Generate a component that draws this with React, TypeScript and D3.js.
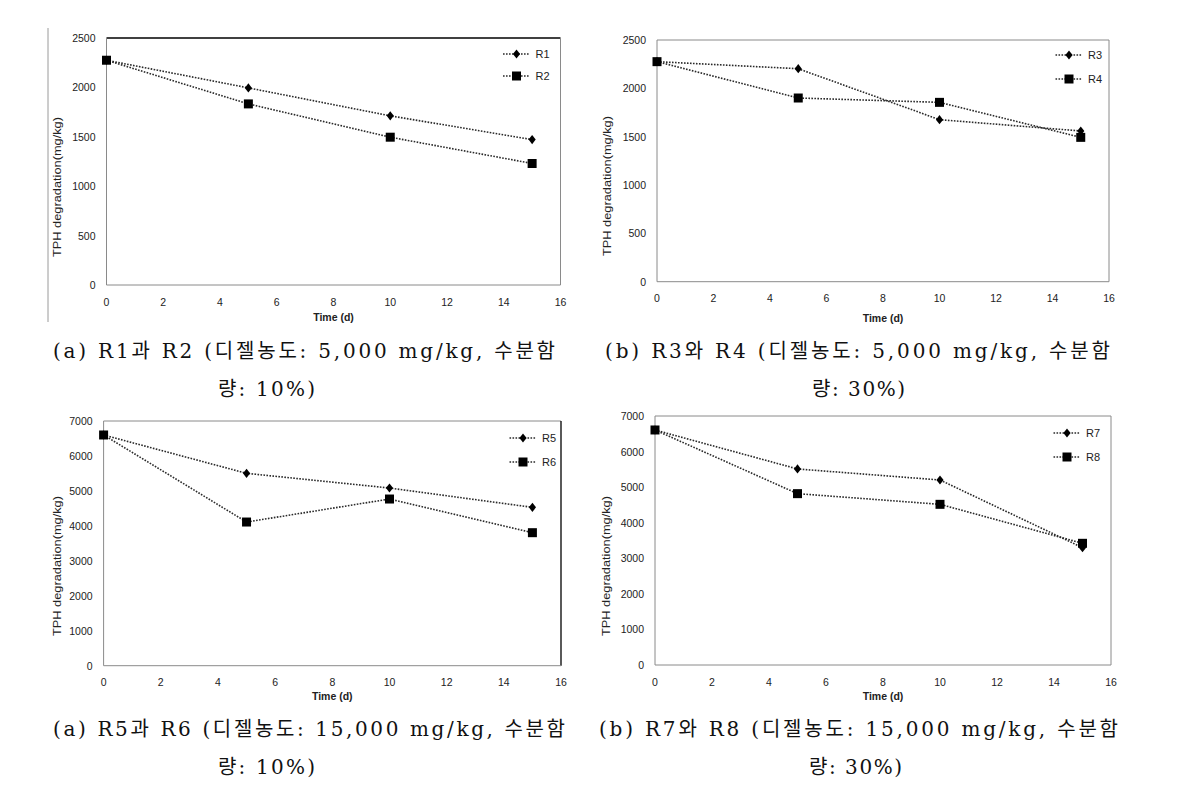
import React from "react";
import * as d3 from "d3";

// ---- data ----
const days = [0, 5, 10, 15];
const r1 = [2275, 1995, 1712, 1472];
const r2 = [2275, 1833, 1496, 1230];
const r3 = [2276, 2203, 1676, 1559];
const r4 = [2276, 1900, 1855, 1493];
const r5 = [6600, 5503, 5083, 4530];
const r6 = [6600, 4110, 4768, 3805];
const r7 = [6607, 5511, 5201, 3299];
const r8 = [6607, 4817, 4517, 3421];
const xTicks = [0, 2, 4, 6, 8, 10, 12, 14, 16];
const yTicksLow = [0, 500, 1000, 1500, 2000, 2500];
const yTicksHigh = [0, 1000, 2000, 3000, 4000, 5000, 6000, 7000];
const captions1 = [
  "(a) R1과 R2 (디젤농도: 5,000 mg/kg, 수분함",
  "(b) R3와 R4 (디젤농도: 5,000 mg/kg, 수분함",
  "(a) R5과 R6 (디젤농도: 15,000 mg/kg, 수분함",
  "(b) R7와 R8 (디젤농도: 15,000 mg/kg, 수분함",
];
const captions2 = ["량: 10%)", "량: 30%)", "량: 10%)", "량: 30%)"];

// ---- layout ----
const panels = [
  { a: r1, b: r2, na: "R1", nb: "R2", yMax: 2500, yT: yTicksLow, x0: 106.5, x1: 560.5, y0: 38, y1: 285,
    leg: { x: 516.5, y: 54, dy: 22 }, title: { x: 57, y: 187 }, timeY: 317, tickY: 302, topDark: true, rightDark: false,
    cap: { x0: 53, x1: 555, y: 351, l2x0: 218, l2x1: 315, y2: 389 } },
  { a: r3, b: r4, na: "R3", nb: "R4", yMax: 2500, yT: yTicksLow, x0: 657, x1: 1109, y0: 40, y1: 281.7,
    leg: { x: 1069, y: 55, dy: 24 }, title: { x: 607, y: 186 }, timeY: 318, tickY: 298, topDark: false, rightDark: false,
    cap: { x0: 605, x1: 1110, y: 351, l2x0: 812, l2x1: 905, y2: 389 } },
  { a: r5, b: r6, na: "R5", nb: "R6", yMax: 7000, yT: yTicksHigh, x0: 103.6, x1: 561, y0: 421, y1: 665.7,
    leg: { x: 523, y: 438, dy: 24 }, title: { x: 57, y: 566 }, timeY: 696, tickY: 682, topDark: false, rightDark: true,
    cap: { x0: 53, x1: 565, y: 729, l2x0: 218, l2x1: 315, y2: 767 } },
  { a: r7, b: r8, na: "R7", nb: "R8", yMax: 7000, yT: yTicksHigh, x0: 655, x1: 1111, y0: 416, y1: 665,
    leg: { x: 1067, y: 433, dy: 24 }, title: { x: 605.5, y: 566 }, timeY: 696, tickY: 682, topDark: false, rightDark: false,
    cap: { x0: 599, x1: 1118, y: 729, l2x0: 809, l2x1: 902, y2: 767 } },
];

const sansFont = "'Liberation Sans', Arial, sans-serif";
const capFont = "'DejaVu Serif', 'Noto Sans CJK KR', serif";
const diamond = "M0,-4.6L3.6,0L0,4.6L-3.6,0Z";
const square = "M-4.5,-4.5H4.5V4.5H-4.5Z";
const dash = "1.6 1.4";
const lineColor = "#2a2a2a";

function Panel({ p }: { p: any }) {
  const x = d3.scaleLinear().domain([0, 16]).range([p.x0, p.x1]);
  const y = d3.scaleLinear().domain([0, p.yMax]).range([p.y1, p.y0]);
  const line = d3.line<number>().x((_, i) => x(days[i])).y((d) => y(d));
  const series = [
    { vals: p.a, name: p.na, mark: diamond },
    { vals: p.b, name: p.nb, mark: square },
  ];
  return (
    <g>
      <line x1={p.x0} x2={p.x1} y1={p.y0} y2={p.y0} stroke={p.topDark ? "#000" : "#8a8a8a"} strokeWidth={p.topDark ? 1.3 : 1} />
      <line x1={p.x1} x2={p.x1} y1={p.y0} y2={p.y1} stroke={p.rightDark ? "#000" : "#8a8a8a"} strokeWidth={p.rightDark ? 1.3 : 1} />
      <line x1={p.x0} x2={p.x0} y1={p.y0} y2={p.y1} stroke="#8a8a8a" />
      <line x1={p.x0} x2={p.x1} y1={p.y1} y2={p.y1} stroke="#8a8a8a" />
      {p.yT.map((t: number) => (
        <text key={"y" + t} x={p.x0 - 11} y={y(t)} textAnchor="end" dominantBaseline="central"
          fontFamily={sansFont} fontSize={10.5} fill="#222">{t}</text>
      ))}
      {xTicks.map((t) => (
        <text key={"x" + t} x={x(t)} y={p.tickY} textAnchor="middle" dominantBaseline="central"
          fontFamily={sansFont} fontSize={10.5} fill="#222">{t}</text>
      ))}
      <text x={(p.x0 + p.x1) / 2} y={p.timeY} textAnchor="middle" dominantBaseline="central"
        fontFamily={sansFont} fontSize={10.5} fontWeight="bold" fill="#222">Time (d)</text>
      <text transform={`translate(${p.title.x},${p.title.y}) rotate(-90)`} textAnchor="middle" dominantBaseline="central"
        fontFamily={sansFont} fontSize={11.5} fill="#222" textLength={140} lengthAdjust="spacingAndGlyphs">TPH degradation(mg/kg)</text>
      {series.map((s) => (
        <g key={s.name}>
          <path d={line(s.vals) || ""} fill="none" stroke={lineColor} strokeWidth={1.6} strokeDasharray={dash} />
          {s.vals.map((v: number, i: number) => (
            <path key={i} d={s.mark} transform={`translate(${x(days[i])},${y(v)})`} fill="#000" />
          ))}
        </g>
      ))}
      {series.map((s, i) => {
        const ly = p.leg.y + i * p.leg.dy;
        return (
          <g key={"l" + s.name}>
            <line x1={p.leg.x - 13.5} x2={p.leg.x + 13.5} y1={ly} y2={ly} stroke={lineColor} strokeWidth={1.6} strokeDasharray={dash} />
            <path d={s.mark} transform={`translate(${p.leg.x},${ly})`} fill="#000" />
            <text x={p.leg.x + 19} y={ly} dominantBaseline="central" fontFamily={sansFont} fontSize={11} fill="#222">{s.name}</text>
          </g>
        );
      })}
    </g>
  );
}

export default function App() {
  return (
    <svg width={1199} height={789} style={{ position: "absolute", left: 0, top: 0, background: "#fff" }}>
      <rect x={0} y={0} width={1199} height={789} fill="#fff" />
      <line x1={48} x2={48} y1={28} y2={322} stroke="#9a9a9a" />
      {panels.map((p, i) => (
        <Panel key={i} p={p} />
      ))}
      {panels.map((p, i) => (
        <g key={"c" + i} fontFamily={capFont} fontSize={20} fill="#111">
          <text x={p.cap.x0} y={p.cap.y} dominantBaseline="central" textLength={p.cap.x1 - p.cap.x0} lengthAdjust="spacing">{captions1[i]}</text>
          <text x={p.cap.l2x0} y={p.cap.y2} dominantBaseline="central" textLength={p.cap.l2x1 - p.cap.l2x0} lengthAdjust="spacing">{captions2[i]}</text>
        </g>
      ))}
    </svg>
  );
}
